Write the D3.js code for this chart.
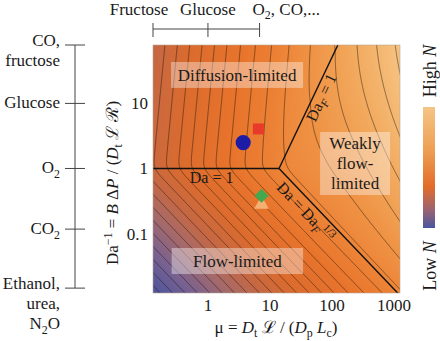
<!DOCTYPE html>
<html>
<head>
<meta charset="utf-8">
<script src="https://cdn.jsdelivr.net/npm/d3@7"></script>
<style>
body { margin: 0; background: #fff; }
text { font-family: "Liberation Serif", "Times New Roman", "DejaVu Serif", serif; fill: #1a1a1a; white-space: pre; }
</style>
</head>
<body>
<svg id="chart" width="440" height="341"></svg>
<script>
// axis extents and ticks
var muExtent = [0.13, 1250];
var daExtent = [0.0122, 79];
var muTicks = [1, 10, 100, 1000];
var daTicks = [10, 1, 0.1];
var daTickLabels = ["10", "1", "0.1"];

// regime map: where Da = 1, Da_F = 1 and Da = Da_F^(1/3) meet
var muJunction = 14;
var kDiff = 0.1;       // lean of the diffusion-limited contours
var wWeak = 0.06;      // bend of the weakly flow-limited contours
var tauDiff = 0.05;    // smoothing across Da = 1
var tauWeak = 0.15;    // smoothing into the weakly flow-limited part
var lineLevels = [-3.83, -3.63, -3.43, -3.23, -3.03, -2.83, -2.63, -2.43, -2.23, -2.03, -1.83, -1.63,
  -1.43, -1.23, -1.03, -0.81, -0.57, -0.31, -0.03, 0.3, 0.62, 0.9, 1.15, 1.4];
var fillLevels = d3.range(-4.4, 1.7, 0.04);

// colours of log N
var colorStops = [-4.0, -3.3, -2.7, -2.2, -1.6, -0.8, -0.2, 0.3, 0.8, 1.5];
var colorValues = ["#4a549e", "#7a6290", "#a86a68", "#c66843", "#dc6c2e", "#e8742c", "#ec8236", "#ef9244", "#f2a85c", "#f6c686"];
var barOffsets = [0, 0.35, 0.66, 0.85, 1];
var barColors = ["#f5c586", "#eea055", "#e26c2a", "#9c6272", "#4a56a0"];

// molecules on the left scale (Da^-1)
var moleculeLabels = [["CO,", "fructose"], ["Glucose"], ["O_{2}"], ["CO_{2}"], ["Ethanol,", "urea,", "N_{2}O"]];
var moleculeDa = [79, 10, 1, 0.117, 0.0145];

// molecules on the top bracket (mu)
var topLabels = ["Fructose", "Glucose", "O_{2}, CO,..."];
var topMu = [0.13, 1, 6.8];

// markers
var markerShapes = ["circle", "square", "triangle", "diamond"];
var markerMu = [3.7, 6.5, 7.3, 7.3];
var markerDa = [2.5, 4.05, 0.28, 0.38];
var markerColors = ["#1c1ca6", "#e8392b", "#f3b072", "#43a84e"];

// region labels (boxes in mu / Da^-1 corners)
var regionLines = [["Diffusion-limited"], ["Weakly", "flow-", "limited"], ["Flow-limited"]];
var regionBoxMu = [[0.254, 34.2], [64.3, 865], [0.26, 34.2]];
var regionBoxDa = [[43.3, 17.3], [3.64, 0.392], [0.06, 0.0239]];

var svg = d3.select("#chart");
var pLeft = 153, pRight = 400, pTop = 45, pBottom = 293;

var x = d3.scaleLog().domain(muExtent).range([pLeft, pRight]);
var y = d3.scaleLog().domain(daExtent).range([pBottom, pTop]);

function softmin(a, b, t) {
  var lo = Math.min(a, b);
  return lo - t * Math.log(Math.exp((lo - a) / t) + Math.exp((lo - b) / t));
}

function logN(mu, da) {
  var m = Math.log10(mu / muJunction), d = Math.log10(da);
  var cWeak = (1 - 2 * kDiff) / 3;
  var A = m - kDiff * d, B = m + d;
  var C = (m + d) * (cWeak + wWeak * Math.max(0, 2 * m - d));
  return softmin(softmin(A, B, tauDiff), C, tauWeak);
}

function rich(sel, str, size) {
  var re = /_\{([^}]*)\}|\^\{([^}]*)\}|\*([^*]*)\*|([^_^*]+)/g, mm, shift = 0;
  while ((mm = re.exec(str))) {
    var t, s = 0, small = false, italic = false;
    if (mm[1] !== undefined) { t = mm[1]; s = 0.26 * size; small = true; }
    else if (mm[2] !== undefined) { t = mm[2]; s = -0.38 * size; small = true; }
    else if (mm[3] !== undefined) { t = mm[3]; italic = true; }
    else t = mm[4];
    if (t.charAt(0) === "~") { t = t.slice(1); italic = true; }
    var ts = sel.append("tspan").text(t).attr("dy", s - shift);
    shift = s;
    if (small) ts.attr("font-size", size * 0.7);
    if (italic) ts.attr("font-style", "italic");
  }
}

// grid of log N, one cell per pixel, a little wider than the plot
var x0 = pLeft - 4, y0 = pTop - 4, nx = (pRight - pLeft) + 8, ny = (pBottom - pTop) + 8;
var values = new Float64Array(nx * ny);
for (var j = 0; j < ny; j++) {
  for (var i = 0; i < nx; i++) {
    values[i + j * nx] = logN(x.invert(x0 + i + 0.5), y.invert(y0 + j + 0.5));
  }
}

var color = d3.scaleLinear().domain(colorStops).range(colorValues).clamp(true);
var path = d3.geoPath(d3.geoTransform({
  point: function(px, py) { this.stream.point(x0 + px, y0 + py); }
}));

svg.append("clipPath").attr("id", "clip")
  .append("rect").attr("x", pLeft).attr("y", pTop).attr("width", pRight - pLeft).attr("height", pBottom - pTop);

var plot = svg.append("g").attr("clip-path", "url(#clip)");

plot.selectAll("path.band")
  .data(d3.contours().size([nx, ny]).thresholds(fillLevels)(values))
  .enter().append("path")
  .attr("class", "band")
  .attr("d", path)
  .attr("fill", function(d) { return color(d.value); })
  .attr("stroke", function(d) { return color(d.value); })
  .attr("stroke-width", 0.3);

plot.selectAll("path.iso")
  .data(d3.contours().size([nx, ny]).thresholds(lineLevels)(values))
  .enter().append("path")
  .attr("class", "iso")
  .attr("d", path)
  .attr("fill", "none")
  .attr("stroke", "#1a1008")
  .attr("stroke-opacity", 0.8)
  .attr("stroke-width", 0.6);

// regime boundaries
var boundaries = [
  [[muExtent[0], 1], [muJunction, 1]],
  [[muJunction, 1], [muJunction * Math.sqrt(daExtent[1]), daExtent[1]]],
  [[muJunction, 1], [muExtent[1], muJunction / muExtent[1]]]
];
var line = d3.line().x(function(d) { return x(d[0]); }).y(function(d) { return y(d[1]); });
plot.selectAll("path.bound")
  .data(boundaries)
  .enter().append("path")
  .attr("class", "bound")
  .attr("d", line)
  .attr("fill", "none")
  .attr("stroke", "#111")
  .attr("stroke-width", 1.4);

// region labels
regionLines.forEach(function(lines, k) {
  var bx0 = x(regionBoxMu[k][0]), bx1 = x(regionBoxMu[k][1]);
  var by0 = y(regionBoxDa[k][0]), by1 = y(regionBoxDa[k][1]);
  plot.append("rect")
    .attr("x", bx0).attr("y", by0).attr("width", bx1 - bx0).attr("height", by1 - by0)
    .attr("fill", "#fff").attr("fill-opacity", 0.38);
  var lh = 20, cy = (by0 + by1) / 2, firstBase = cy - (lines.length - 1) * lh / 2 + 6;
  lines.forEach(function(s, n) {
    plot.append("text")
      .attr("x", (bx0 + bx1) / 2).attr("y", firstBase + n * lh)
      .attr("text-anchor", "middle").attr("font-size", 17)
      .text(s);
  });
});

// boundary labels
plot.append("text").attr("x", x(0.51)).attr("y", y(0.6)).attr("font-size", 16).call(rich, "Da = 1", 16);

function alongLabel(mu, da, mu2, da2, offset, str) {
  var ang = Math.atan2(y(da2) - y(da), x(mu2) - x(mu)) * 180 / Math.PI;
  plot.append("text")
    .attr("transform", "translate(" + x(mu) + "," + y(da) + ") rotate(" + ang + ")")
    .attr("y", offset).attr("text-anchor", "middle").attr("font-size", 16)
    .call(rich, str, 16);
}
alongLabel(52, Math.pow(52 / muJunction, 2), 100, Math.pow(100 / muJunction, 2), 13, "Da_{~F} = 1");
alongLabel(50, muJunction / 50, 100, muJunction / 100, 16, "Da = Da_{~F}^{1/3}");

// markers
var sym = { circle: d3.symbolCircle, square: d3.symbolSquare, triangle: d3.symbolTriangle, diamond: d3.symbolSquare };
var symSize = { circle: 180, square: 120, triangle: 95, diamond: 98 };
plot.selectAll("path.marker")
  .data(markerShapes)
  .enter().append("path")
  .attr("class", "marker")
  .attr("transform", function(d, k) {
    return "translate(" + x(markerMu[k]) + "," + y(markerDa[k]) + ")" + (d === "diamond" ? " rotate(45)" : "");
  })
  .attr("d", function(d) { return d3.symbol().type(sym[d]).size(symSize[d])(); })
  .attr("fill", function(d, k) { return markerColors[k]; });

// frame
svg.append("rect").attr("x", pLeft).attr("y", pTop).attr("width", pRight - pLeft).attr("height", pBottom - pTop)
  .attr("fill", "none").attr("stroke", "#b8a898").attr("stroke-width", 0.6);

// x tick labels
svg.selectAll("text.xt").data(muTicks).enter().append("text")
  .attr("class", "xt").attr("x", function(d) { return x(d); }).attr("y", 311)
  .attr("text-anchor", "middle").attr("font-size", 17).text(function(d) { return d; });

// y tick labels
svg.selectAll("text.yt").data(daTicks).enter().append("text")
  .attr("class", "yt").attr("x", 148).attr("y", function(d) { return y(d) + 6; })
  .attr("text-anchor", "end").attr("font-size", 17).text(function(d, k) { return daTickLabels[k]; });

// axis titles
svg.append("text").attr("x", 276).attr("y", 333).attr("text-anchor", "middle").attr("font-size", 17)
  .call(rich, "μ = *D*_{t} ℒ / (*D*_{p} *L*_{c})", 17);
svg.append("text").attr("transform", "translate(118,183) rotate(-90)").attr("text-anchor", "middle").attr("font-size", 17)
  .call(rich, "Da^{−1} = *B* Δ*P* / (*D*_{t} ℒ ℛ)", 17);

// top bracket
var topY = 29;
svg.append("line").attr("x1", x(topMu[0])).attr("x2", x(topMu[2])).attr("y1", topY).attr("y2", topY)
  .attr("stroke", "#444").attr("stroke-width", 1);
svg.selectAll("line.tt").data(topMu).enter().append("line").attr("class", "tt")
  .attr("x1", function(d) { return x(d); }).attr("x2", function(d) { return x(d); })
  .attr("y1", topY - 6).attr("y2", topY + 8).attr("stroke", "#444").attr("stroke-width", 1);
var topAnchor = ["middle", "middle", "start"], topDx = [-14, 0, -7];
topLabels.forEach(function(s, k) {
  svg.append("text").attr("x", x(topMu[k]) + topDx[k]).attr("y", 15)
    .attr("text-anchor", topAnchor[k]).attr("font-size", 17).call(rich, s, 17);
});

// left molecule scale
var scaleX = 75;
svg.append("line").attr("x1", scaleX).attr("x2", scaleX)
  .attr("y1", y(moleculeDa[0])).attr("y2", y(moleculeDa[moleculeDa.length - 1]))
  .attr("stroke", "#444").attr("stroke-width", 1);
moleculeDa.forEach(function(da, k) {
  var ty = y(da);
  svg.append("line").attr("x1", scaleX - 10).attr("x2", scaleX + 10).attr("y1", ty).attr("y2", ty)
    .attr("stroke", "#444").attr("stroke-width", 1);
  var lines = moleculeLabels[k];
  var base = lines.length === 1 ? ty + 5 : ty + 1;
  lines.forEach(function(s, n) {
    svg.append("text").attr("x", 60).attr("y", base + n * 20)
      .attr("text-anchor", "end").attr("font-size", 17).call(rich, s, 17);
  });
});

// colour bar
var grad = svg.append("defs").append("linearGradient").attr("id", "bar")
  .attr("x1", 0).attr("y1", 0).attr("x2", 0).attr("y2", 1);
barOffsets.forEach(function(o, k) {
  grad.append("stop").attr("offset", o).attr("stop-color", barColors[k]);
});
svg.append("rect").attr("x", 423).attr("y", 107).attr("width", 12).attr("height", 121).attr("fill", "url(#bar)");
svg.append("text").attr("transform", "translate(436,71) rotate(-90)").attr("text-anchor", "middle")
  .attr("font-size", 18).call(rich, "High *N*", 18);
svg.append("text").attr("transform", "translate(436,266) rotate(-90)").attr("text-anchor", "middle")
  .attr("font-size", 18).call(rich, "Low *N*", 18);
</script>
</body>
</html>
